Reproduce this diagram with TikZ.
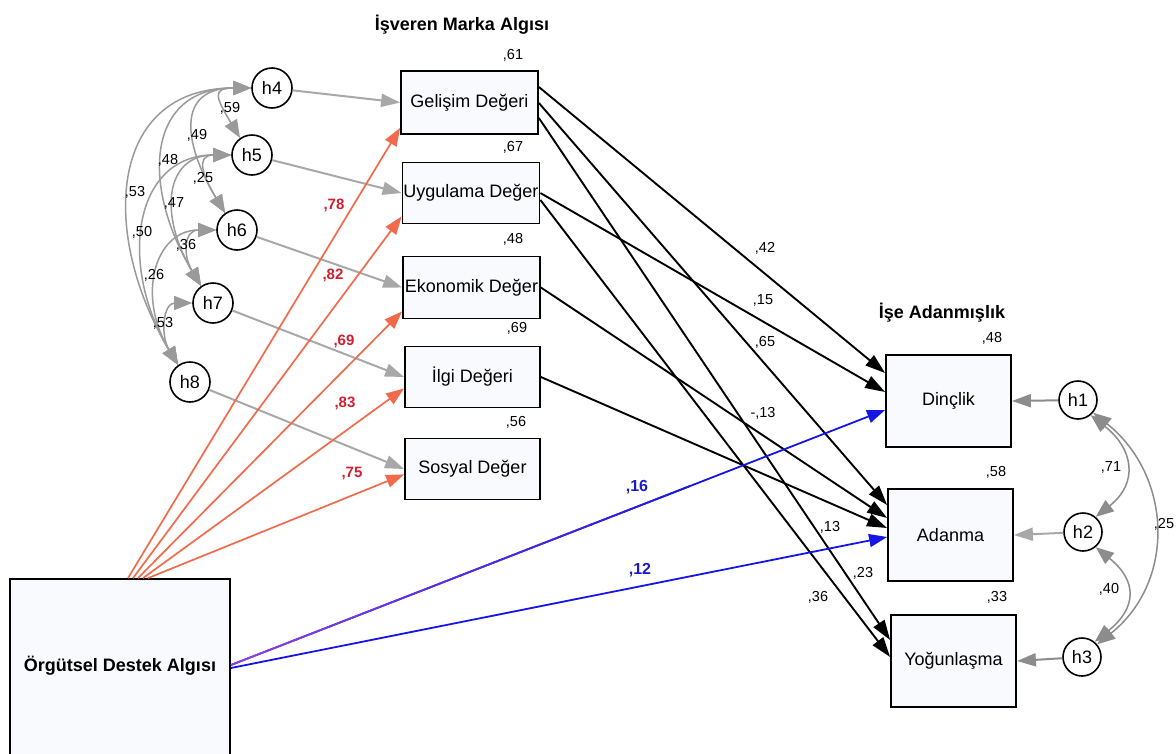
\documentclass[tikz,border=0pt]{standalone}
\usepackage{fontspec}
\setmainfont{Liberation Sans}
\usetikzlibrary{arrows.meta,calc}
\definecolor{redline}{HTML}{F26A4B}
\definecolor{redlab}{HTML}{D01F2E}
\definecolor{bluel}{HTML}{1515E6}
\definecolor{bluelab}{HTML}{1B1BC8}
\definecolor{purp}{HTML}{9040DC}
\definecolor{grayl}{HTML}{A8A8A8}
\definecolor{grayd}{HTML}{8C8C8C}
\definecolor{graycov}{HTML}{9A9A9A}
\definecolor{boxfill}{HTML}{F9FAFD}
\begin{document}
\begin{tikzpicture}[x=1pt,y=-1pt,
  box/.style={draw=black, line width=1.8pt, fill=boxfill, inner sep=0pt, font=\fontsize{18}{20}\selectfont},
  err/.style={circle, draw=black, line width=1.6pt, fill=white, minimum size=40pt, inner sep=0pt, font=\fontsize{18}{20}\selectfont},
  errs/.style={err, minimum size=38pt},
  lab/.style={inner sep=0pt, font=\fontsize{14.5}{15}\selectfont},
  rlab/.style={inner sep=0pt, text=redlab, font=\fontsize{15}{16}\selectfont\bfseries},
  blab/.style={inner sep=0pt, text=bluelab, font=\fontsize{16}{17}\selectfont\bfseries},
  ttl/.style={inner sep=0pt, font=\fontsize{18}{20}\selectfont\bfseries},
  garr/.style={grayl, line width=2pt, -{Triangle[length=19pt,width=13pt]}},
  barr/.style={black, line width=1.9pt, -{Triangle[length=20pt,width=13pt]}},
  rarr/.style={redline, line width=1.7pt, -{Triangle[length=18pt,width=13pt]}},
  blarr/.style={bluel, line width=1.8pt, -{Triangle[length=18pt,width=13pt]}},
  cov/.style={graycov, line width=1.5pt, {Triangle[length=18pt,width=14pt]}-{Triangle[length=18pt,width=14pt]}},
]
\useasboundingbox (0,0) rectangle (1176,753);

% titles
\node[ttl] (t1) at (462,25) {İşveren Marka Algısı};
\node[ttl] (t2) at (942,313) {İşe Adanmışlık};

% middle boxes
\node[box, minimum width=137pt, minimum height=63pt] (gel) at (469.5,102.5) {Gelişim Değeri};
\node[box, minimum width=137pt, minimum height=61pt] (uyg) at (471,193) {Uygulama Değer};
\node[box, minimum width=137pt, minimum height=62pt] (eko) at (471.5,287.5) {Ekonomik Değer};
\node[box, minimum width=135pt, minimum height=61pt] (ilg) at (472.5,377) {İlgi Değeri};
\node[box, minimum width=135pt, minimum height=61pt] (sos) at (472.5,469) {Sosyal Değer};

% right boxes
\node[box, minimum width=125pt, minimum height=92pt] (din) at (948.5,401) {Dinçlik};
\node[box, minimum width=125pt, minimum height=92pt] (ada) at (950.5,535) {Adanma};
\node[box, minimum width=125pt, minimum height=92pt] (yog) at (953.5,661) {Yoğunlaşma};

% exogenous box
\node[box, minimum width=220pt, minimum height=178pt] (ods) at (120,668) {};
\node[inner sep=0pt, font=\fontsize{18}{20}\selectfont\bfseries] (odst) at (120,666) {Örgütsel Destek Algısı};

% error circles
\node[err] (h4) at (272,88) {h4};
\node[err] (h5) at (252,155) {h5};
\node[err] (h6) at (237,230) {h6};
\node[err] (h7) at (213,303) {h7};
\node[err] (h8) at (190,382) {h8};
\node[errs] (h1) at (1078,400) {h1};
\node[errs] (h2) at (1083,532) {h2};
\node[errs] (h3) at (1082,657) {h3};

% R2 labels
\node[lab] (r61) at (513,55) {,61};
\node[lab] (r67) at (513,147) {,67};
\node[lab] (r48a) at (513,239) {,48};
\node[lab] (r69) at (517,328) {,69};
\node[lab] (r56) at (516,422) {,56};
\node[lab] (r48b) at (992,338) {,48};
\node[lab] (r58) at (996,472) {,58};
\node[lab] (r33) at (997,597) {,33};

% residual arrows left
\draw[garr] (h4) -- (gel.west);
\draw[garr] (h5) -- (uyg.west);
\draw[garr] (h6) -- (eko.west);
\draw[garr] (h7) -- (ilg.west);
\draw[garr] (h8) -- (sos.west);

% residual arrows right
\draw[garr, grayd] (h1) -- (din.east);
\draw[garr, grayl] (h2) -- (ada.east);
\draw[garr, grayd] (h3) -- (yog.east);

% covariances left
\draw[cov] (h4.west) .. controls +(-40,0) and +(-24,-40) .. (h5.125);
\draw[cov] (h4.west) .. controls +(-75,0) and +(-42,-70) .. (h6.125);
\draw[cov] (h4.west) .. controls +(-105,0) and +(-60,-100) .. (h7.125);
\draw[cov] (h4.west) .. controls +(-144,0) and +(-78,-130) .. (h8.125);
\draw[cov] (h5.west) .. controls +(-37,0) and +(-21,-35) .. (h6.125);
\draw[cov] (h5.west) .. controls +(-67,0) and +(-42,-70) .. (h7.125);
\draw[cov] (h5.west) .. controls +(-98,0) and +(-60,-100) .. (h8.125);
\draw[cov] (h6.west) .. controls +(-33,0) and +(-18,-30) .. (h7.125);
\draw[cov] (h6.west) .. controls +(-61,0) and +(-42,-70) .. (h8.125);
\draw[cov] (h7.west) .. controls +(-29,0) and +(-18,-30) .. (h8.125);

\node[lab] (c59) at (230,108) {,59};
\node[lab] (c49) at (197,135) {,49};
\node[lab] (c48) at (168,160) {,48};
\node[lab] (c53a) at (135,192) {,53};
\node[lab] (c25a) at (203,178) {,25};
\node[lab] (c47) at (174,203) {,47};
\node[lab] (c50) at (142,232) {,50};
\node[lab] (c36) at (186,245) {,36};
\node[lab] (c26) at (154,275) {,26};
\node[lab] (c53b) at (163,323) {,53};

% covariances right
\draw[cov, grayd] (h1.-50) .. controls +(43,34) and +(43,-34) .. (h2.50);
\draw[cov, grayd] (h2.-50) .. controls +(42,34) and +(42,-34) .. (h3.50);
\draw[cov, grayd] (h1.-40) .. controls +(79,63) and +(79,-63) .. (h3.40);
\node[lab] (c71) at (1111,467) {,71};
\node[lab] (c40) at (1109,589) {,40};
\node[lab] (c25b) at (1164,524) {,25};

% red paths
\coordinate (os1) at ($(ods.north)+(8,0)$);
\coordinate (os2) at ($(ods.north)+(13,0)$);
\coordinate (os3) at ($(ods.north)+(18,0)$);
\coordinate (os4) at ($(ods.north)+(23,0)$);
\coordinate (os5) at ($(ods.north)+(28,0)$);
\draw[rarr] (os1) -- ($(gel.south west)+(0,-7)$);
\draw[rarr] (os2) -- ($(uyg.south west)+(0,-8)$);
\draw[rarr] (os3) -- ($(eko.south west)+(0,-8)$);
\draw[rarr] (os4) -- ($(ilg.south west)+(0,-20)$);
\draw[rarr] (os5) -- ($(sos.south west)+(0,-26)$);
\node[rlab] (p78) at (334,205) {,78};
\node[rlab] (p82) at (333,275) {,82};
\node[rlab] (p69) at (344,341) {,69};
\node[rlab] (p83) at (345,403) {,83};
\node[rlab] (p75) at (352,473) {,75};

% black paths
\draw[barr] ($(gel.east)+(0,-15.5)$) -- ($(din.west)+(0,-28)$);
\draw[barr] ($(gel.east)+(0,0.5)$) -- ($(ada.west)+(0,-30)$);
\draw[barr] ($(gel.east)+(0,15.5)$) -- ($(yog.west)+(0,-21)$);
\draw[barr] (uyg.east) -- ($(din.west)+(0,-9)$);
\draw[barr] ($(uyg.east)+(0,7)$) -- ($(yog.west)+(0,-4)$);
\draw[barr] (eko.east) -- ($(ada.west)+(0,-17)$);
\draw[barr] (ilg.east) -- ($(ada.west)+(0,-7)$);
\node[lab] (b42) at (765,248) {,42};
\node[lab] (b15) at (763,300) {,15};
\node[lab] (b65) at (765,342) {,65};
\node[lab] (b13a) at (763,413) {-,13};
\node[lab] (b13b) at (830,527) {,13};
\node[lab] (b23) at (863,573) {,23};
\node[lab] (b36) at (818,597) {,36};

% blue paths
\coordinate (ob1) at ($(ods.east)+(0,-3)$);
\coordinate (ob2) at ($(ods.east)+(0,0)$);
\coordinate (db) at ($(din.west)+(0,9)$);
\coordinate (ab) at ($(ada.west)+(0,2)$);
\draw[blarr] (ob2) -- (ab);
\draw[blarr] (ob1) -- (db);
\foreach \i in {0,...,13} {
  \pgfmathsetmacro\ta{\i*0.05}
  \pgfmathsetmacro\tb{\i*0.05+0.052}
  \pgfmathtruncatemacro\pp{100-\i*7}
  \draw[line width=1.8pt, purp!\pp!bluel] ($(ob1)!\ta!(db)$) -- ($(ob1)!\tb!(db)$);
}
\node[blab] (l16) at (637,487) {,16};
\node[blab] (l12) at (640,570) {,12};
\end{tikzpicture}
\end{document}
